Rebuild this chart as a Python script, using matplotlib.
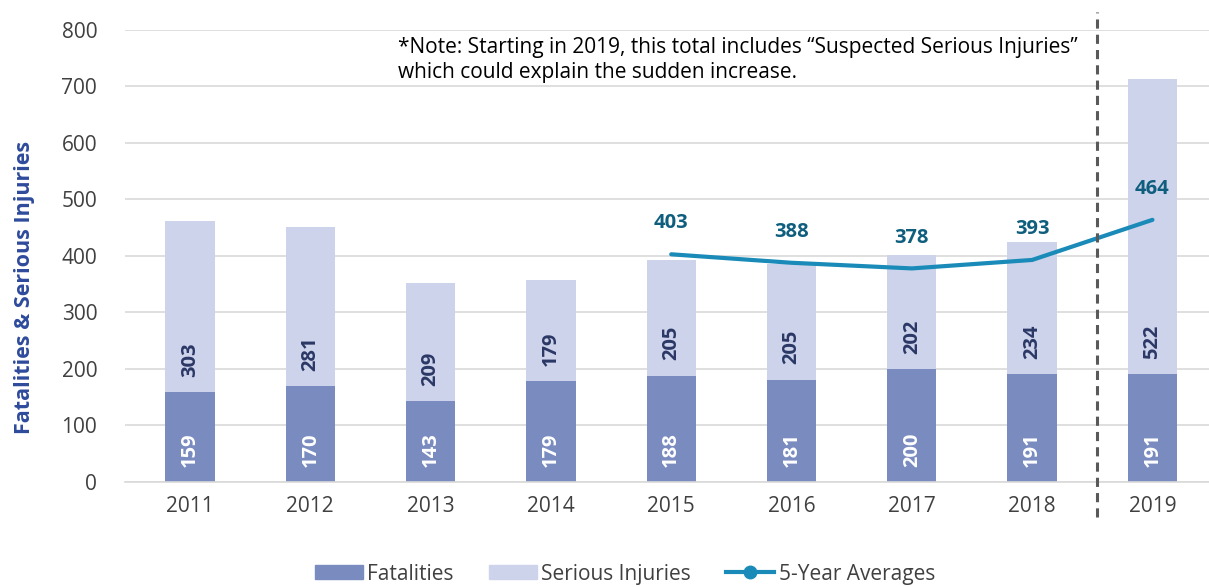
import numpy as np
import matplotlib.pyplot as plt
from matplotlib.patches import Patch
from matplotlib.lines import Line2D

plt.rcParams['font.family'] = ['Open Sans', 'DejaVu Sans']

years = ['2011', '2012', '2013', '2014', '2015', '2016', '2017', '2018', '2019']
fatalities = [159, 170, 143, 179, 188, 181, 200, 191, 191]
injuries = [303, 281, 209, 179, 205, 205, 202, 234, 522]
avg_years = ['2015', '2016', '2017', '2018', '2019']
averages = [403, 388, 378, 393, 464]

c_fat = '#7a8bc0'
c_inj = '#cdd3eb'
c_line = '#1a8bb8'

fig = plt.figure(figsize=(12.09, 5.87), dpi=100)
ax = fig.add_axes([0.1034, 0.1789, 0.8966, 0.77])

x = np.arange(len(years))
w = 0.41
ax.bar(x, fatalities, w, color=c_fat, zorder=2)
ax.bar(x, injuries, w, bottom=fatalities, color=c_inj, zorder=2)

for i in range(len(years)):
    ax.annotate(str(fatalities[i]), (x[i], 0), xytext=(0, 11), textcoords='offset points',
                rotation=90, ha='center', va='bottom', color='white',
                fontsize=14.5, fontweight='bold', zorder=4)
    ax.annotate(str(injuries[i]), (x[i], fatalities[i]), xytext=(0, 11), textcoords='offset points',
                rotation=90, ha='center', va='bottom', color='#2b3866',
                fontsize=14.5, fontweight='bold', zorder=4)

ax_x = [years.index(y) for y in avg_years]
ax.plot(ax_x, averages, color=c_line, lw=3, zorder=3, solid_capstyle='round')
for xi, v in zip(ax_x, averages):
    ax.annotate(str(v), (xi, v), xytext=(0, 15), textcoords='offset points',
                ha='center', va='bottom', color='#0f5e7e', fontsize=14.5, fontweight='bold')

# divider before 2019
ax.plot([7.54, 7.54], [-0.077, 1.04], transform=ax.get_xaxis_transform(),
        color='#595959', lw=2.2, ls=(0, (3, 2)), clip_on=False, zorder=5)

ax.text(1.73, 788, '*Note: Starting in 2019, this total includes \u201cSuspected Serious Injuries\u201d\nwhich could explain the sudden increase.',
        fontsize=15, va='top', ha='left', color='black', linespacing=1.25)

ax.set_xlim(-0.54, 8.47)
ax.set_ylim(0, 800)
ax.set_yticks(range(0, 801, 100))
ax.set_xticks(x)
ax.set_xticklabels(years)
ax.tick_params(length=0, labelsize=15, colors='#404040')
ax.tick_params(axis='y', pad=20)
ax.tick_params(axis='x', pad=10)
ax.yaxis.grid(True, color='#d9d9d9', lw=1.2, zorder=0)
ax.set_axisbelow(True)
for s in ['top', 'right', 'left']:
    ax.spines[s].set_visible(False)
ax.spines['bottom'].set_color('#d9d9d9')
ax.spines['bottom'].set_linewidth(1.2)

fig.text(0.02, 0.51, 'Fatalities & Serious Injuries', rotation=90, ha='center', va='center',
         fontsize=15.5, fontweight='bold', color='#2e4a9c')

handles = [Patch(color=c_fat, label='Fatalities'),
           Patch(color=c_inj, label='Serious Injuries'),
           Line2D([], [], color=c_line, lw=3, marker='o', markersize=9, label='5-Year Averages')]
fig.legend(handles=handles, loc='center', bbox_to_anchor=(0.517, 0.022), ncol=3, frameon=False,
           fontsize=15, handlelength=2.3, handleheight=0.65, columnspacing=1.7, handletextpad=0.2,
           labelcolor='#404040')

fig.savefig('out.png', dpi=100)
